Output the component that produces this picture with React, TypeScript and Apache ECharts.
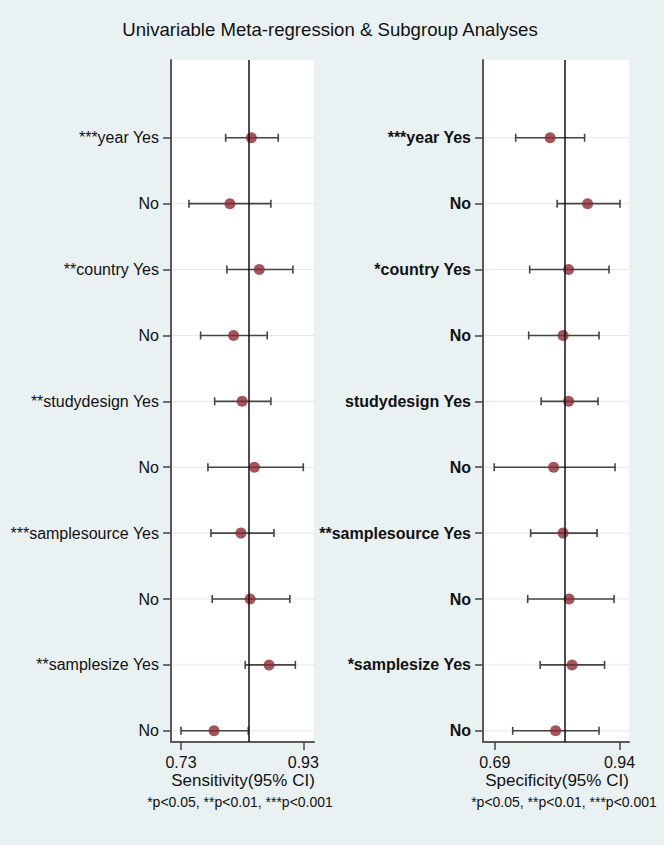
import React, { useEffect, useRef } from "react";
import * as echarts from "echarts";

const sensLabels = ["***year Yes", "No", "**country Yes", "No", "**studydesign Yes", "No", "***samplesource Yes", "No", "**samplesize Yes", "No"];
const specLabels = ["***year Yes", "No", "*country Yes", "No", "studydesign Yes", "No", "**samplesource Yes", "No", "*samplesize Yes", "No"];
const sensEst = [0.845, 0.81, 0.858, 0.816, 0.83, 0.85, 0.828, 0.843, 0.874, 0.784];
const sensLow = [0.803, 0.743, 0.805, 0.762, 0.785, 0.774, 0.779, 0.781, 0.835, 0.73];
const sensHigh = [0.889, 0.877, 0.913, 0.871, 0.877, 0.93, 0.882, 0.908, 0.917, 0.84];
const specEst = [0.801, 0.876, 0.838, 0.827, 0.838, 0.808, 0.827, 0.839, 0.845, 0.812];
const specLow = [0.732, 0.815, 0.76, 0.758, 0.783, 0.689, 0.762, 0.756, 0.781, 0.726];
const specHigh = [0.87, 0.941, 0.919, 0.899, 0.897, 0.931, 0.895, 0.929, 0.91, 0.899];
const sensTicks = [0.73, 0.93];
const specTicks = [0.69, 0.94];
const sensPooled = 0.836;
const specPooled = 0.833;
const rowValues = [10, 9, 8, 7, 6, 5, 4, 3, 2, 1];

const FONT = "'Liberation Sans', Arial, sans-serif";
const BG = "#e9f1f2";

export default function App() {
  const ref = useRef<HTMLDivElement>(null);
  useEffect(() => {
    document.body.style.margin = "0";
    if (!ref.current) return;
    const chart = echarts.init(ref.current, undefined, { renderer: "svg" });

    const yAxis = (labels: string[], gi: number, bold: boolean) => ({
      type: "value",
      gridIndex: gi,
      min: 0.83,
      max: 11.18,
      axisLine: { show: true, lineStyle: { color: "#5a5a5a", width: 2 } },
      axisTick: { show: true, length: 8, customValues: rowValues, lineStyle: { color: "#444", width: 1.5 } },
      axisLabel: {
        customValues: rowValues,
        formatter: (v: number) => labels[Math.round(10 - v)],
        margin: 12,
        fontSize: 16,
        fontWeight: bold ? "bold" : "normal",
        color: "#111",
        fontFamily: FONT,
      },
      splitLine: { show: false },
    });
    const xAxis = (ticks: number[], min: number, max: number, gi: number) => ({
      type: "value",
      gridIndex: gi,
      min,
      max,
      axisLine: { show: true, lineStyle: { color: "#5a5a5a", width: 2 } },
      axisTick: { show: true, length: 8, customValues: ticks, lineStyle: { color: "#444", width: 1.5 } },
      axisLabel: {
        customValues: ticks,
        formatter: (v: number) => v.toFixed(2),
        margin: 12,
        fontSize: 16,
        color: "#111",
        fontFamily: FONT,
      },
      splitLine: { show: false },
    });

    const gridSeries = (gi: number, pooled: number) => ({
      type: "custom",
      xAxisIndex: gi,
      yAxisIndex: gi,
      z: 1,
      data: rowValues.map((v) => [v]),
      renderItem: (params: any, api: any) => {
        const cs = params.coordSys;
        const p = api.coord([0.8, api.value(0)]);
        return {
          type: "line",
          shape: { x1: cs.x + 1, y1: p[1], x2: cs.x + cs.width, y2: p[1] },
          style: { stroke: "#deeaea", lineWidth: 1 },
        };
      },
      markLine: {
        silent: true,
        symbol: "none",
        label: { show: false },
        lineStyle: { color: "#111", width: 1.5, type: "solid" },
        data: [{ xAxis: pooled }],
      },
    });

    const errSeries = (gi: number, low: number[], high: number[]) => ({
      type: "custom",
      xAxisIndex: gi,
      yAxisIndex: gi,
      z: 3,
      data: rowValues.map((v, i) => [low[i], high[i], v]),
      renderItem: (_params: any, api: any) => {
        const y = api.value(2);
        const a = api.coord([api.value(0), y]);
        const b = api.coord([api.value(1), y]);
        const h = 4;
        const st = { stroke: "#444", lineWidth: 1.6 };
        return {
          type: "group",
          children: [
            { type: "line", shape: { x1: a[0], y1: a[1], x2: b[0], y2: b[1] }, style: st },
            { type: "line", shape: { x1: a[0], y1: a[1] - h, x2: a[0], y2: a[1] + h }, style: st },
            { type: "line", shape: { x1: b[0], y1: b[1] - h, x2: b[0], y2: b[1] + h }, style: st },
          ],
        };
      },
    });

    const pointSeries = (gi: number, est: number[]) => ({
      type: "scatter",
      xAxisIndex: gi,
      yAxisIndex: gi,
      z: 4,
      symbol: "circle",
      symbolSize: 11,
      itemStyle: { color: "#8c2a33" },
      data: rowValues.map((v, i) => [est[i], v]),
    });

    const txt = (text: string, x: number, y: number, size: number, extra: any = {}) => ({
      type: "text",
      x,
      y,
      style: {
        text,
        fontSize: size,
        fontFamily: FONT,
        fill: "#111",
        align: "center",
        verticalAlign: "middle",
        ...extra,
      },
    });

    chart.setOption({
      animation: false,
      backgroundColor: BG,
      grid: [
        { left: 171, top: 60, width: 143, height: 682, show: true, backgroundColor: "#fff", borderWidth: 0 },
        { left: 483, top: 60, width: 146, height: 682, show: true, backgroundColor: "#fff", borderWidth: 0 },
      ],
      xAxis: [xAxis(sensTicks, 0.7136, 0.9475, 0), xAxis(specTicks, 0.6665, 0.959, 1)],
      yAxis: [yAxis(sensLabels, 0, false), yAxis(specLabels, 1, true)],
      series: [
        gridSeries(0, sensPooled),
        gridSeries(1, specPooled),
        errSeries(0, sensLow, sensHigh),
        errSeries(1, specLow, specHigh),
        pointSeries(0, sensEst),
        pointSeries(1, specEst),
      ],
      graphic: [
        txt("Univariable Meta-regression & Subgroup Analyses", 330, 29, 18.6),
        txt("Sensitivity(95% CI)", 243, 780, 17),
        txt("Specificity(95% CI)", 557, 780, 17),
        txt("*p<0.05, **p<0.01, ***p<0.001", 240, 802, 14),
        txt("*p<0.05, **p<0.01, ***p<0.001", 564, 802, 14),
      ],
    });
    return () => chart.dispose();
  }, []);
  return <div ref={ref} style={{ width: 664, height: 845, background: BG }} />;
}
